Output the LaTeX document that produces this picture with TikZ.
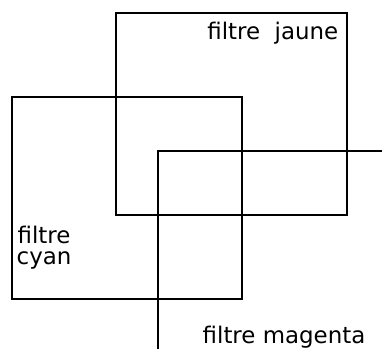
\documentclass[tikz,border=0pt]{standalone}
\usepackage{fontspec}
\setmainfont{DejaVu Sans}
\begin{document}
\begin{tikzpicture}[x=1bp,y=1bp, line width=1.4bp,
  filtre/.style={draw=black, line width=1.4bp, inner sep=0pt, outer sep=0pt, anchor=south west},
  lbl/.style={font=\fontsize{23}{21}\selectfont, inner sep=0pt, text=black}]
\useasboundingbox (0,0) rectangle (382,349);
% yellow filter
\node[filtre, minimum width=231bp, minimum height=202bp] (jaune) at (116,134) {};
% cyan filter
\node[filtre, minimum width=230bp, minimum height=202bp] (cyanf) at (12,50) {};
% magenta filter (open corner)
\coordinate (mbot) at (158,0);
\coordinate (mcorner) at (158,198);
\coordinate (mright) at (382,198);
\draw[line width=1.4bp] (mbot) -- (mcorner) -- (mright);
% labels
\node[lbl, anchor=base east] (tj) at (339,310) {filtre\ \ jaune};
\node[lbl, anchor=base west, align=center] (tc) at (16,85) {filtre\\cyan};
\node[lbl, anchor=base west] (tm) at (202,6) {filtre magenta};
\end{tikzpicture}
\end{document}
